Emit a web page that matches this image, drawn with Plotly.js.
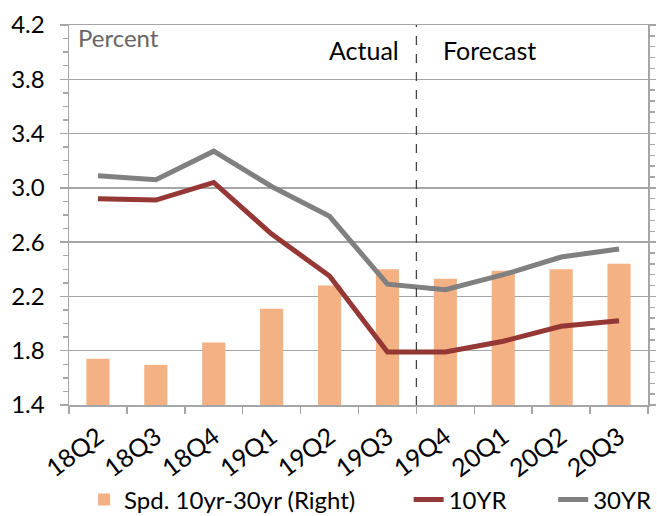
<!DOCTYPE html>
<html>
<head>
<meta charset="utf-8">
<script src="https://cdn.plot.ly/plotly-3.0.1.min.js"></script>
<style>html,body{margin:0;padding:0;background:#fff;}#chart{width:657px;height:516px;}</style>
</head>
<body>
<div id="chart"></div>
<script>
const quarters = ["18Q2","18Q3","18Q4","19Q1","19Q2","19Q3","19Q4","20Q1","20Q2","20Q3"];
const spread = [0.17, 0.148, 0.23, 0.355, 0.44, 0.50, 0.465, 0.495, 0.50, 0.52];
const yr10 = [2.92, 2.91, 3.04, 2.66, 2.35, 1.79, 1.79, 1.87, 1.98, 2.02];
const yr30 = [3.09, 3.06, 3.27, 3.01, 2.79, 2.29, 2.25, 2.36, 2.49, 2.55];
const leftTicks = [1.4, 1.8, 2.2, 2.6, 3.0, 3.4, 3.8, 4.2];

const FONT = "Lato, 'Open Sans', sans-serif";
const GRID = "#a6a6a6";
const FS = 24;

const traces = [
  {type:"bar", name:"Spd. 10yr-30yr (Right)", x:quarters, y:spread, yaxis:"y",
   marker:{color:"#f4b183"}, width:0.4, legend:"legend"},
  {type:"scatter", mode:"lines", name:"10YR", x:quarters, y:yr10, yaxis:"y2",
   line:{color:"#953735", width:5}, legend:"legend2"},
  {type:"scatter", mode:"lines", name:"30YR", x:quarters, y:yr30, yaxis:"y2",
   line:{color:"#808080", width:5}, legend:"legend3"}
];

const legBase = {orientation:"h", xref:"container", yref:"container", y:0.031,
  yanchor:"middle", xanchor:"left",
  font:{size:FS, family:FONT, color:"#000"}, bgcolor:"rgba(0,0,0,0)"};

const layout = {
  width:657, height:516,
  margin:{l:69, r:9, t:25, b:111},
  paper_bgcolor:"#fff", plot_bgcolor:"#fff",
  font:{family:FONT, size:FS, color:"#000"},
  showlegend:true,
  xaxis:{type:"category", range:[-0.5,9.5], tickson:"boundaries", ticks:"outside",
    ticklen:7, tickcolor:GRID, tickwidth:1.5, showline:true, linecolor:GRID, linewidth:1.5,
    mirror:true, showgrid:false, tickangle:-37, automargin:false, ticklabelstandoff:6,
    tickfont:{size:25, family:FONT}},
  yaxis:{side:"right", range:[0,1.4], dtick:0.2, showgrid:true, gridcolor:GRID, gridwidth:1.5,
    showticklabels:false, ticks:"outside", ticklen:6, tickcolor:GRID, tickwidth:1.5,
    minor:{dtick:0.04, ticks:"outside", ticklen:5, tickcolor:GRID, showgrid:false},
    showline:true, linecolor:GRID, linewidth:1.5, zeroline:false, automargin:false},
  yaxis2:{overlaying:"y", side:"left", range:[1.4,4.2], tickvals:leftTicks,
    ticktext:leftTicks.map(v=>v.toFixed(1)), showgrid:false, zeroline:false,
    ticks:"outside", ticklen:8, tickcolor:GRID, tickwidth:1.5, automargin:false,
    ticklabelstandoff:10,
    minor:{dtick:0.1, ticks:"outside", ticklen:5, tickcolor:GRID, showgrid:false},
    showline:true, linecolor:GRID, linewidth:1.5, tickfont:{size:FS, family:FONT}},
  legend:Object.assign({}, legBase, {x:0.128}),
  legend2:Object.assign({}, legBase, {x:0.622}),
  legend3:Object.assign({}, legBase, {x:0.842}),
  shapes:[{type:"line", xref:"x", yref:"paper", x0:5.5, x1:5.5, y0:0, y1:1,
    line:{color:"#404040", width:1.3, dash:"dash"}}],
  annotations:[
    {xref:"paper", yref:"paper", x:0.012, y:1.01, xanchor:"left", yanchor:"top",
     text:"Percent", showarrow:false, font:{size:FS, color:"#666", family:FONT}},
    {xref:"x", yref:"paper", x:5.23, y:0.98, xanchor:"right", yanchor:"top",
     text:"Actual", showarrow:false, font:{size:25, color:"#000", family:FONT}},
    {xref:"x", yref:"paper", x:5.92, y:0.98, xanchor:"left", yanchor:"top",
     text:"Forecast", showarrow:false, font:{size:25, color:"#000", family:FONT}}
  ]
};

Plotly.newPlot("chart", traces, layout, {displayModeBar:false, staticPlot:true});
</script>
</body>
</html>
